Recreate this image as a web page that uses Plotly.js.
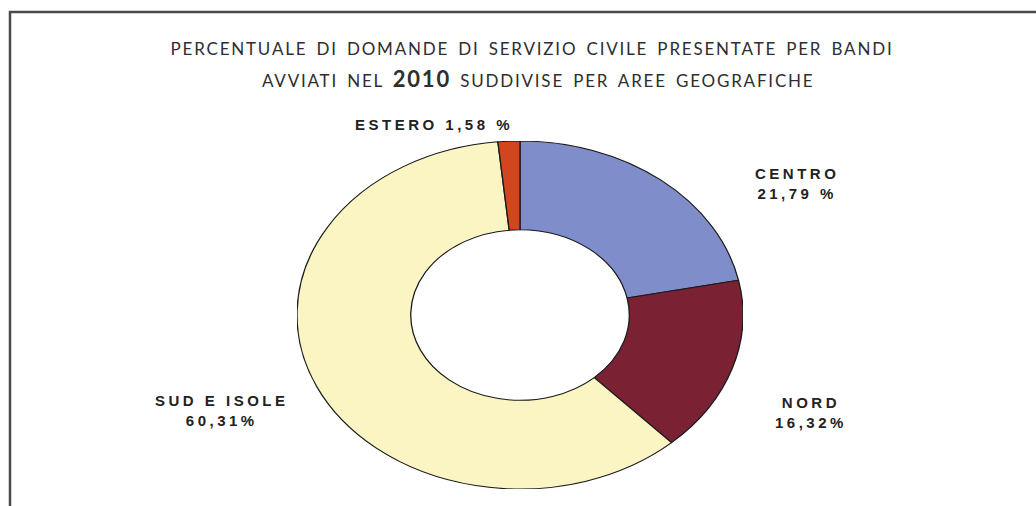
<!DOCTYPE html>
<html>
<head>
<meta charset="utf-8">
<script src="https://cdn.plot.ly/plotly-3.0.1.min.js"></script>
<style>
  html, body { margin: 0; padding: 0; background: #ffffff; }
  #wrap { position: relative; width: 1036px; height: 506px; overflow: hidden; }
  #main { position: absolute; left: 0; top: 0; width: 1036px; height: 506px; }
  #pie { position: absolute; left: 346px; top: 141px; width: 348px; height: 348px;
         transform: scaleX(1.2816); transform-origin: 50% 50%; }
  text.annotation-text { letter-spacing: 3.5px; }
  g.annotation[data-index="4"] text.annotation-text { letter-spacing: 1.8px; word-spacing: 3px; }
  text.gtitle { letter-spacing: 1.8px; word-spacing: 3px; }
</style>
</head>
<body>
<div id="wrap">
  <div id="main"></div>
  <div id="pie"></div>
</div>
<script>
// Data
const regions = ["CENTRO", "NORD", "SUD E ISOLE", "ESTERO"];
const percentages = [21.79, 16.32, 60.31, 1.58];
const valueLabels = ["21,79 %", "16,32%", "60,31%", "1,58 %"];
const sliceColors = ["#7F8ECB", "#7A2234", "#FBF4C3", "#D1461E"];

const titleLine1 = "PERCENTUALE DI DOMANDE DI SERVIZIO CIVILE PRESENTATE PER BANDI";
const titleLine2 = "AVVIATI NEL <b><span style=\"font-size:22px\">2010</span></b> SUDDIVISE PER AREE GEOGRAFICHE";

// Pie (drawn in its own layer and stretched horizontally, as in the reference)
Plotly.newPlot("pie", [{
  type: "pie",
  labels: regions,
  values: percentages,
  sort: false,
  direction: "clockwise",
  rotation: 0,
  hole: 0.49,
  textinfo: "none",
  hoverinfo: "none",
  marker: { colors: sliceColors, line: { color: "#1a1a1a", width: 1 } },
  domain: { x: [0, 1], y: [0, 1] }
}], {
  width: 348, height: 348,
  margin: { l: 0, r: 0, t: 0, b: 0 },
  paper_bgcolor: "rgba(0,0,0,0)",
  showlegend: false
}, { staticPlot: true, displayModeBar: false });

// Label positions in pixels of the 1036x506 page
const W = 1036, H = 506;
const labelPos = [
  { x: 797, y: 183 },
  { x: 811, y: 412 },
  { x: 222, y: 410 },
  { x: 434, y: 124 }
];
const labelFont = { family: "Liberation Sans, Arial, sans-serif", size: 15, color: "#222222" };

const annotations = regions.map((r, i) => {
  const text = (r === "ESTERO") ? "<b>" + r + " " + valueLabels[i] + "</b>"
                                : "<b>" + r + "<br>" + valueLabels[i] + "</b>";
  return {
    text: text, xref: "paper", yref: "paper",
    x: labelPos[i].x / W, y: 1 - labelPos[i].y / H,
    xanchor: "center", yanchor: "middle", showarrow: false,
    align: "center", font: labelFont
  };
});

annotations.push({
  text: titleLine2, xref: "paper", yref: "paper",
  x: 538 / W, y: 1 - 78 / H, xanchor: "center", yanchor: "middle",
  showarrow: false, font: { family: "Lato, sans-serif", size: 17, color: "#2e2e2e" }
});

Plotly.newPlot("main", [], {
  width: W, height: H,
  margin: { l: 0, r: 0, t: 0, b: 0 },
  paper_bgcolor: "#ffffff",
  plot_bgcolor: "rgba(0,0,0,0)",
  xaxis: { visible: false }, yaxis: { visible: false },
  title: {
    text: titleLine1,
    x: 532 / W, xanchor: "center",
    y: 1 - 49 / H, yanchor: "middle",
    font: { family: "Lato, sans-serif", size: 17, color: "#2e2e2e" }
  },
  annotations: annotations,
  shapes: [{
    type: "rect", xref: "paper", yref: "paper",
    x0: 10 / W, x1: 1.05, y0: -0.05, y1: 1 - 12 / H,
    line: { color: "#4a4a4a", width: 2.5 }, fillcolor: "rgba(0,0,0,0)"
  }],
  showlegend: false
}, { staticPlot: true, displayModeBar: false });
</script>
</body>
</html>
